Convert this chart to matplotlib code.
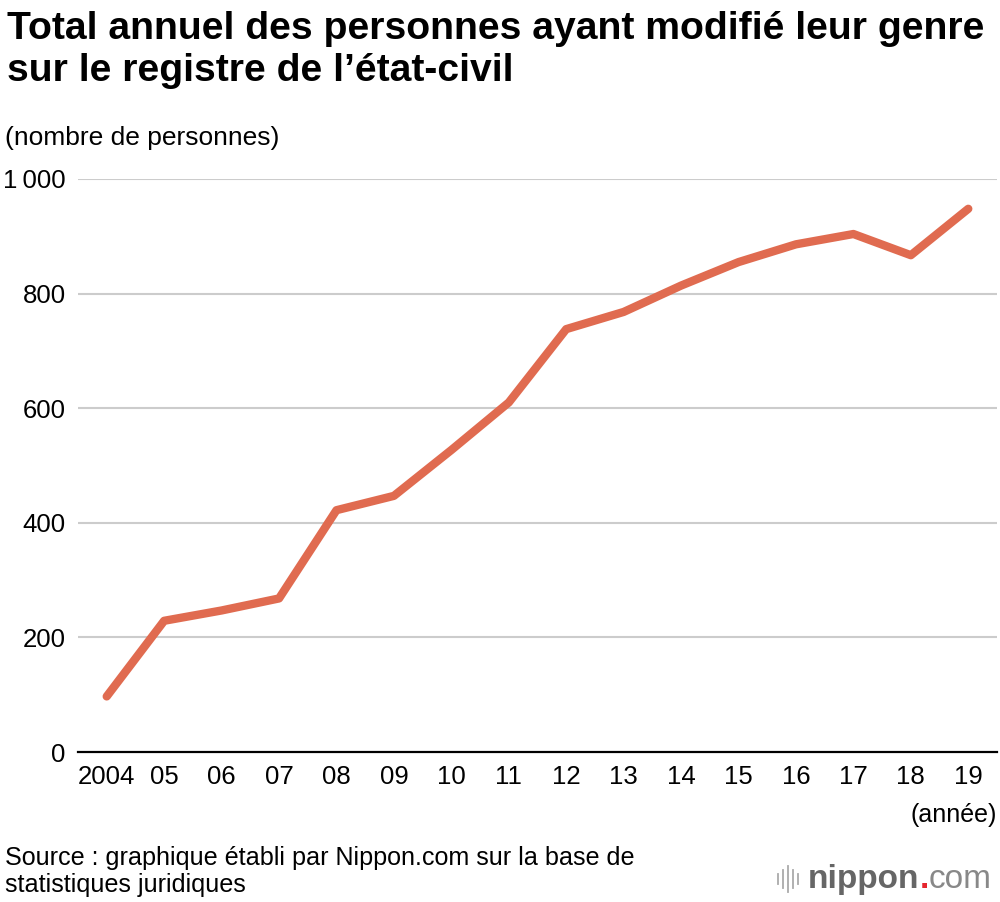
import matplotlib
matplotlib.use("Agg")
import matplotlib.pyplot as plt

years = list(range(2004, 2020))
tick_labels = ["2004", "05", "06", "07", "08", "09", "10", "11", "12", "13",
               "14", "15", "16", "17", "18", "19"]
values = [97, 229, 247, 268, 422, 447, 527, 610, 738, 768, 814, 855, 886, 904, 867, 948]
y_ticks = [0, 200, 400, 600, 800, 1000]
y_tick_labels = ["0", "200", "400", "600", "800", "1\u2009000"]

plt.rcParams['font.family'] = ['Liberation Sans', 'DejaVu Sans']

fig = plt.figure(figsize=(10, 9.02), dpi=100)
W, H = 1000, 902
ax = fig.add_axes([78 / W, 150 / H, (997 - 78) / W, (752 - 179) / H])

ax.plot(years, values, color="#E06B50", lw=6, solid_capstyle="round",
        solid_joinstyle="round", zorder=3)

ax.set_xlim(2003.5, 2019.5)
ax.set_ylim(0, 1000)
ax.set_yticks(y_ticks)
ax.set_yticklabels(y_tick_labels, fontsize=18.5)
ax.set_xticks(years)
ax.set_xticklabels(tick_labels, fontsize=18.5)
ax.tick_params(axis="both", length=0)
ax.tick_params(axis="y", pad=9)
ax.tick_params(axis="x", pad=9)
for v in y_ticks[1:]:
    ax.axhline(v, color="#cccccc", lw=1.5, zorder=1)
for s in ["top", "right", "left"]:
    ax.spines[s].set_visible(False)
ax.spines["bottom"].set_color("black")
ax.spines["bottom"].set_linewidth(1.6)
ax.set_facecolor("white")

fig.text(7 / W, 1 - 39 / H, "Total annuel des personnes ayant modifié leur genre",
         fontsize=28.2, fontweight="bold", ha="left", va="baseline")
fig.text(7 / W, 1 - 81 / H, "sur le registre de l’état-civil",
         fontsize=28.2, fontweight="bold", ha="left", va="baseline")
fig.text(5 / W, 1 - 145 / H, "(nombre de personnes)", fontsize=19,
         ha="left", va="baseline")
fig.text(997 / W, 1 - 822 / H, "(année)", fontsize=18, ha="right", va="baseline")
fig.text(5 / W, 1 - 865 / H, "Source : graphique établi par Nippon.com sur la base de",
         fontsize=18.1, ha="left", va="baseline")
fig.text(5 / W, 1 - 892 / H, "statistiques juridiques",
         fontsize=18.1, ha="left", va="baseline")

# logo
lx = 778
for i, h in enumerate([10, 18, 26, 18, 10]):
    fig.add_artist(plt.Line2D([(lx + i * 5) / W] * 2,
                              [1 - (879 + h / 2) / H, 1 - (879 - h / 2) / H],
                              color="#aaaaaa", lw=1.3))
t1 = fig.text(808 / W, 1 - 888 / H, "nippon", fontsize=24, fontweight="bold",
              color="#666666", ha="left", va="baseline")
fig.canvas.draw()
bb = t1.get_window_extent()
t2 = fig.text(bb.x1 / W, 1 - 888 / H, ".", fontsize=24, fontweight="bold",
              color="#e5262e", ha="left", va="baseline")
bb2 = t2.get_window_extent()
fig.text(bb2.x1 / W, 1 - 888 / H, "com", fontsize=24, color="#888888",
         fontweight="light", ha="left", va="baseline")

fig.savefig("out.png", dpi=100, facecolor="white")
